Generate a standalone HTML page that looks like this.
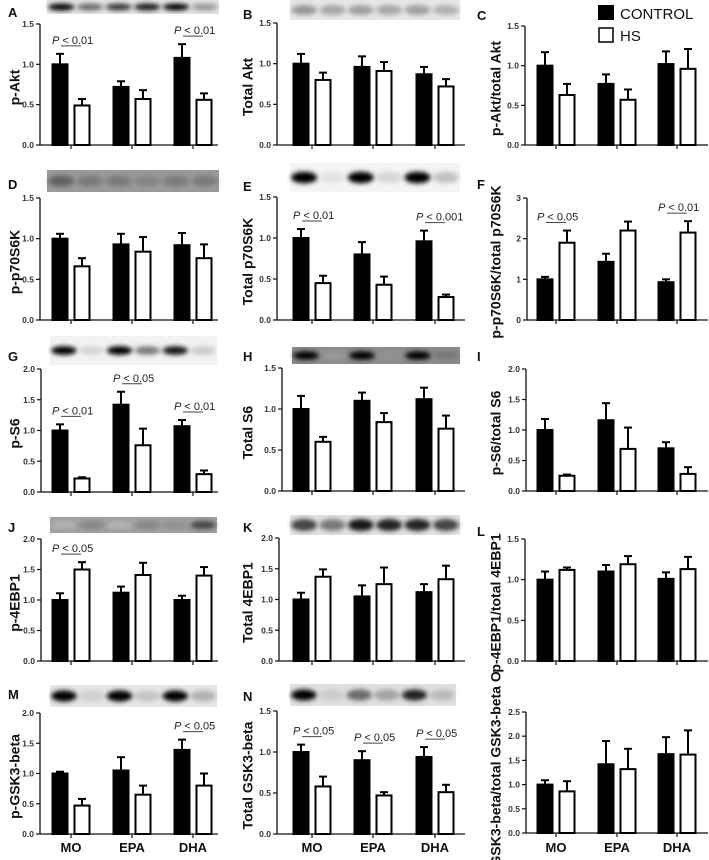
<!DOCTYPE html>
<html><head><meta charset="utf-8"><style>
html,body{margin:0;padding:0;background:#fff;}
svg{display:block;font-family:"Liberation Sans",Arial,sans-serif;}
.tk{font-size:8.5px;font-weight:bold;fill:#333;}
.yl{font-size:14px;font-weight:bold;fill:#111;}
.pl{font-size:11px;fill:#222;}
.let{font-size:13px;font-weight:bold;fill:#111;}
.xl{font-size:13px;font-weight:bold;fill:#111;}
</style></head><body>
<svg id="fig" width="709" height="860" viewBox="0 0 709 860" xmlns="http://www.w3.org/2000/svg">
<defs><filter id="bl" x="-50%" y="-50%" width="200%" height="200%"><feGaussianBlur stdDeviation="2.5"/></filter></defs>
<g>
<rect x="598" y="5" width="16" height="15" fill="#000"/>
<text x="620" y="19" font-size="15" fill="#111">CONTROL</text>
<rect x="599" y="28" width="14" height="14" fill="#fff" stroke="#000" stroke-width="1.5"/>
<text x="620" y="41" font-size="15" fill="#111">HS</text>
</g>
</svg>
<script>
const groups=["MO","EPA","DHA"];
const aCtrl=[1.0,0.72,1.08], aCtrlErr=[0.13,0.07,0.17], aHs=[0.49,0.57,0.56], aHsErr=[0.08,0.11,0.08];
const bCtrl=[1.0,0.96,0.87], bCtrlErr=[0.12,0.13,0.09], bHs=[0.8,0.91,0.72], bHsErr=[0.09,0.11,0.09];
const cCtrl=[1.0,0.77,1.02], cCtrlErr=[0.17,0.12,0.16], cHs=[0.63,0.57,0.96], cHsErr=[0.14,0.13,0.25];
const dCtrl=[1.0,0.93,0.92], dCtrlErr=[0.06,0.13,0.15], dHs=[0.66,0.84,0.76], dHsErr=[0.1,0.18,0.17];
const eCtrl=[1.0,0.8,0.96], eCtrlErr=[0.11,0.15,0.13], eHs=[0.45,0.43,0.28], eHsErr=[0.09,0.1,0.03];
const fCtrl=[1.0,1.43,0.93], fCtrlErr=[0.06,0.2,0.07], fHs=[1.9,2.2,2.15], fHsErr=[0.3,0.22,0.28];
const gCtrl=[1.0,1.42,1.07], gCtrlErr=[0.1,0.21,0.1], gHs=[0.22,0.76,0.29], gHsErr=[0.02,0.27,0.06];
const hCtrl=[1.0,1.1,1.12], hCtrlErr=[0.16,0.1,0.14], hHs=[0.6,0.84,0.76], hHsErr=[0.06,0.11,0.16];
const iCtrl=[1.0,1.16,0.7], iCtrlErr=[0.18,0.28,0.1], iHs=[0.25,0.69,0.28], iHsErr=[0.02,0.35,0.11];
const jCtrl=[1.0,1.12,1.0], jCtrlErr=[0.11,0.1,0.07], jHs=[1.5,1.41,1.4], jHsErr=[0.12,0.2,0.14];
const kCtrl=[1.0,1.05,1.12], kCtrlErr=[0.11,0.18,0.13], kHs=[1.37,1.25,1.33], kHsErr=[0.12,0.27,0.22];
const lCtrl=[1.0,1.1,1.01], lCtrlErr=[0.1,0.08,0.08], lHs=[1.12,1.19,1.13], lHsErr=[0.03,0.1,0.15];
const mCtrl=[1.0,1.05,1.39], mCtrlErr=[0.03,0.22,0.17], mHs=[0.47,0.65,0.8], mHsErr=[0.11,0.15,0.2];
const nCtrl=[1.0,0.9,0.94], nCtrlErr=[0.09,0.11,0.12], nHs=[0.58,0.47,0.51], nHsErr=[0.12,0.04,0.09];
const oCtrl=[1.0,1.42,1.63], oCtrlErr=[0.09,0.48,0.35], oHs=[0.86,1.32,1.62], oHsErr=[0.21,0.42,0.5];
const ticks15=["0.0","0.5","1.0","1.5"], ticks20=["0.0","0.5","1.0","1.5","2.0"], ticks25=["0.0","0.5","1.0","1.5","2.0","2.5"], ticks3=["0","1","2","3"];
const aSig=[[0,"0.01"],[2,"0.01"]], eSig=[[0,"0.01"],[2,"0.001"]], fSig=[[0,"0.05"],[2,"0.01"]];
const gSig=[[0,"0.01"],[1,"0.05"],[2,"0.01"]], jSig=[[0,"0.05"]], mSig=[[2,"0.05"]], nSig=[[0,"0.05"],[1,"0.05"],[2,"0.05"]];

const NS="http://www.w3.org/2000/svg";
const svg=document.getElementById("fig");
function mk(tag,attrs,parent,text){const e=document.createElementNS(NS,tag);for(const k in attrs)e.setAttribute(k,attrs[k]);if(text!==undefined)e.textContent=text;(parent||svg).appendChild(e);return e;}

const colTicks=[[71,132,193],[312,373,435],[556,617,677]];
const colEnd=[218,465,708];
const colYl=[16,249,497];
const panels=[
 {id:"a",L:"A",col:0,ax:40,y0:145,yt:24,max:1.5,tk:ticks15,lab:"p-Akt",c:aCtrl,ce:aCtrlErr,h:aHs,he:aHsErr,sig:aSig,ly:12},
 {id:"b",L:"B",col:1,ax:277,y0:145,yt:23,max:1.5,tk:ticks15,lab:"Total Akt",c:bCtrl,ce:bCtrlErr,h:bHs,he:bHsErr,ly:14},
 {id:"c",L:"C",col:2,ax:525,y0:145,yt:26,max:1.5,tk:ticks15,lab:"p-Akt/total Akt",c:cCtrl,ce:cCtrlErr,h:cHs,he:cHsErr,ly:15},
 {id:"d",L:"D",col:0,ax:40,y0:320,yt:198,max:1.5,tk:ticks15,lab:"p-p70S6K",c:dCtrl,ce:dCtrlErr,h:dHs,he:dHsErr,ly:184},
 {id:"e",L:"E",col:1,ax:277,y0:320,yt:197,max:1.5,tk:ticks15,lab:"Total p70S6K",c:eCtrl,ce:eCtrlErr,h:eHs,he:eHsErr,sig:eSig,ly:186},
 {id:"f",L:"F",col:2,ax:527,y0:320,yt:198,max:3,tk:ticks3,lab:"p-p70S6K/total p70S6K",c:fCtrl,ce:fCtrlErr,h:fHs,he:fHsErr,sig:fSig,ly:184},
 {id:"g",L:"G",col:0,ax:41,y0:492,yt:369,max:2,tk:ticks20,lab:"p-S6",c:gCtrl,ce:gCtrlErr,h:gHs,he:gHsErr,sig:gSig,ly:356},
 {id:"h",L:"H",col:1,ax:282,y0:491,yt:368,max:1.5,tk:ticks15,lab:"Total S6",c:hCtrl,ce:hCtrlErr,h:hHs,he:hHsErr,ly:356},
 {id:"i",L:"I",col:2,ax:526,y0:491,yt:369,max:2,tk:ticks20,lab:"p-S6/total S6",c:iCtrl,ce:iCtrlErr,h:iHs,he:iHsErr,ly:356},
 {id:"j",L:"J",col:0,ax:41,y0:661,yt:539,max:2,tk:ticks20,lab:"p-4EBP1",c:jCtrl,ce:jCtrlErr,h:jHs,he:jHsErr,sig:jSig,ly:527},
 {id:"k",L:"K",col:1,ax:279,y0:661,yt:538,max:2,tk:ticks20,lab:"Total 4EBP1",c:kCtrl,ce:kCtrlErr,h:kHs,he:kHsErr,ly:527},
 {id:"l",L:"L",col:2,ax:525,y0:661,yt:539,max:1.5,tk:ticks15,lab:"p-4EBP1/total 4EBP1",c:lCtrl,ce:lCtrlErr,h:lHs,he:lHsErr,ly:531},
 {id:"m",L:"M",col:0,ax:40,y0:834,yt:713,max:2,tk:ticks20,lab:"p-GSK3-beta",c:mCtrl,ce:mCtrlErr,h:mHs,he:mHsErr,sig:mSig,ly:694},
 {id:"n",L:"N",col:1,ax:277,y0:834,yt:711,max:1.5,tk:ticks15,lab:"Total GSK3-beta",c:nCtrl,ce:nCtrlErr,h:nHs,he:nHsErr,sig:nSig,ly:696},
 {id:"o",L:"",col:2,ax:526,y0:833,yt:712,max:2.5,tk:ticks25,lab:"p-GSK3-beta/total GSK3-beta O",c:oCtrl,ce:oCtrlErr,h:oHs,he:oHsErr}
];
const blots=[
 {x:47,y:0,w:172,h:14,bg:"#e4e4e4",lanes:[1,0.6,0.75,0.9,1,0.45],band:0.5},
 {x:290,y:0,w:170,h:20,bg:"#e6e6e6",lanes:[0.45,0.4,0.42,0.4,0.42,0.35],band:0.5},
 {x:47,y:170,w:172,h:22,bg:"#9a9a9a",lanes:[0.6,0.5,0.5,0.45,0.5,0.5],band:0.5},
 {x:290,y:163,w:170,h:29,bg:"#f4f4f4",lanes:[1,0.12,1,0.2,1,0.3],band:0.4},
 {x:50,y:336,w:167,h:29,bg:"#f2f2f2",lanes:[1,0.2,1,0.55,0.9,0.25],band:0.3},
 {x:292,y:347,w:168,h:17,bg:"#8c8c8c",lanes:[1,0.3,1,0.35,1,0.5],band:0.5},
 {x:50,y:517,w:167,h:16,bg:"#a0a0a0",lanes:[0.1,0.45,0.1,0.45,0.4,0.7],band:0.5},
 {x:290,y:515,w:170,h:20,bg:"#e2e2e2",lanes:[0.7,0.55,0.9,0.85,0.85,0.7],band:0.6},
 {x:50,y:685,w:167,h:22,bg:"#e6e6e6",lanes:[1,0.2,1,0.25,1,0.35],band:0.5},
 {x:290,y:684,w:166,h:22,bg:"#e0e0e0",lanes:[1,0.2,0.6,0.4,0.85,0.3],band:0.5}
];

blots.forEach((b,bi)=>{
  const g=mk("g",{});
  
  
  mk("rect",{x:b.x,y:b.y,width:b.w,height:b.h,fill:b.bg},g);
  const lw=b.w/6;
  b.lanes.forEach((d,li)=>{
    const v=Math.round(255*(1-d)*0.9);
    const e=mk("ellipse",{cx:b.x+lw*(li+0.5),cy:b.y+b.h/2,rx:lw*0.46,ry:b.h*b.band*0.5,fill:`rgb(${v},${v},${v})`,filter:"url(#bl)",opacity:Math.min(1,0.3+d)},g);
    
    
  });
});

panels.forEach(p=>{
  const g=mk("g",{});
  
  
  const ticks=colTicks[p.col];
  const yS=v=>p.y0-(v/p.max)*(p.y0-p.yt);
  if(p.L){
    const lt=mk("text",{x:[8,243,477][p.col],y:p.ly+5,class:"let"},g,p.L);
    
    
  }
  const cy=(p.y0+p.yt)/2+3;
  const yl=mk("text",{x:colYl[p.col],y:cy,class:"yl","text-anchor":"middle",transform:`rotate(-90 ${colYl[p.col]} ${cy})`,"dominant-baseline":"middle"},g,p.lab);
  
  
  const ya=mk("line",{x1:p.ax,y1:p.yt,x2:p.ax,y2:p.y0,stroke:"#111","stroke-width":1.3},g);
  
  
  const xa=mk("line",{x1:p.ax,y1:p.y0,x2:colEnd[p.col],y2:p.y0,stroke:"#111","stroke-width":1.3},g);
  
  
  const step=p.max/(p.tk.length-1);
  p.tk.forEach((t,i)=>{
    const y=yS(i*step);
    mk("line",{x1:p.ax-4,y1:y,x2:p.ax,y2:y,stroke:"#111","stroke-width":1.2},g);
    const tt=mk("text",{x:p.ax-6,y:y+3,class:"tk","text-anchor":"end"},g,t);
    
    
  });
  groups.forEach((gn,i)=>{
    const tx=ticks[i];
    mk("line",{x1:tx,y1:p.y0,x2:tx,y2:p.y0+4,stroke:"#111","stroke-width":1.2},g);
    if(p.id==="m"||p.id==="n"||p.id==="o"){
      const xl=mk("text",{x:tx,y:852,class:"xl","text-anchor":"middle"},g,gn);
      
      
    }
    [[p.c,p.ce,-11,"#000","control"],[p.h,p.he,11,"#fff","hs"]].forEach(s=>{
      const v=s[0][i], e=s[1][i], cx=tx+s[2];
      const top=yS(v), et=yS(v+e);
      const el=mk("line",{x1:cx,y1:top,x2:cx,y2:et,stroke:"#000","stroke-width":2},g);
      
      
      mk("line",{x1:cx-4,y1:et,x2:cx+4,y2:et,stroke:"#000","stroke-width":2},g);
      const r=mk("rect",{x:cx-7.5,y:top,width:15,height:p.y0-top,fill:s[3],stroke:"#000","stroke-width":2},g);
      
      
    });
  });
  (p.sig||[]).forEach(sg=>{
    const i=sg[0], tx=ticks[i];
    const hi=Math.max(p.c[i]+p.ce[i],p.h[i]+p.he[i]);
    const ly=yS(hi)-8;
    const sl=mk("line",{x1:tx-10,y1:ly,x2:tx+10,y2:ly,stroke:"#444","stroke-width":1},g);
    
    
    const st=mk("text",{x:tx-19,y:ly-2,class:"pl"},g);
    
    
    mk("tspan",{"font-style":"italic"},st,"P");
    mk("tspan",{},st," < "+sg[1]);
  });
});
</script>
</body></html>
